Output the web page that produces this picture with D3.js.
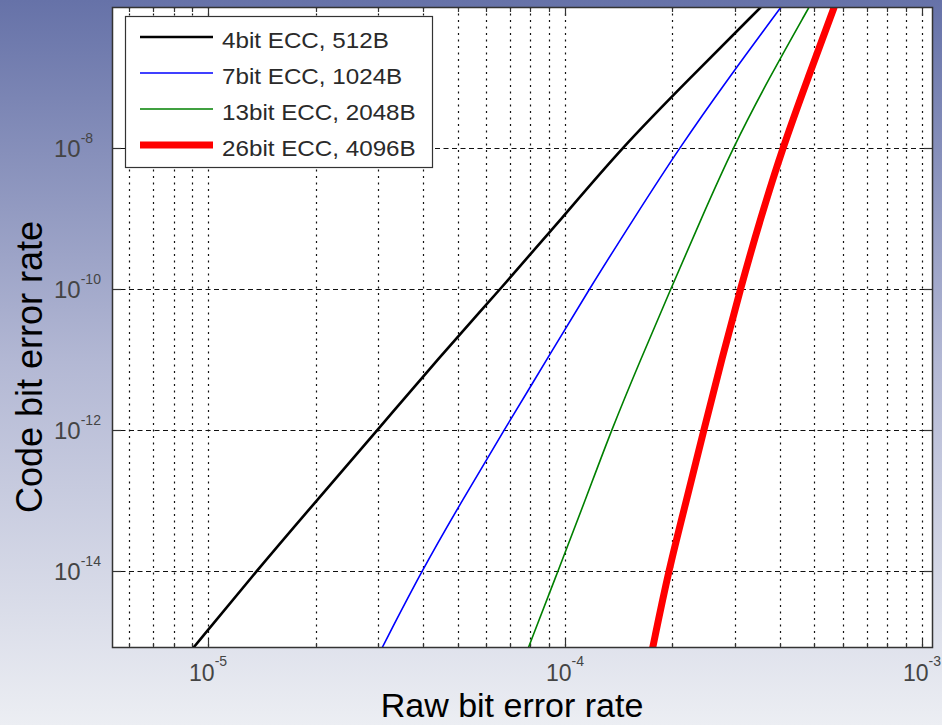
<!DOCTYPE html>
<html>
<head>
<meta charset="utf-8">
<script src="https://cdn.jsdelivr.net/npm/d3@7"></script>
<style>
  html, body { margin: 0; padding: 0; }
  body { width: 942px; height: 725px; overflow: hidden; }
  svg { display: block; font-family: "Liberation Sans", Arial, Helvetica, sans-serif; }
</style>
</head>
<body>
<div id="chart"></div>
<script>
// code bit error rate levels (shared y values for every curve)
const codeBer = [7.94e-16, 1e-14, 1e-13, 1e-12, 1e-11, 1e-10, 1e-9, 1e-8, 1e-7, 1e-6];

// raw bit error rate at each level above
const raw4bit = [9.08e-6, 1.37e-5, 2.02e-5, 2.99e-5, 4.4e-5, 6.6e-5, 9.8e-5, 1.44e-4, 2.25e-4, 3.54e-4];
const raw7bit = [3.07e-5, 3.97e-5, 5.16e-5, 6.76e-5, 8.91e-5, 1.17e-4, 1.56e-4, 2.09e-4, 2.88e-4, 4.03e-4];
const raw13bit = [7.89e-5, 9.57e-5, 1.14e-4, 1.35e-4, 1.63e-4, 1.98e-4, 2.41e-4, 2.95e-4, 3.74e-4, 4.83e-4];
const raw26bit = [1.76e-4, 1.95e-4, 2.19e-4, 2.45e-4, 2.75e-4, 3.1e-4, 3.53e-4, 4.07e-4, 4.8e-4, 5.68e-4];

const seriesNames = ["4bit ECC, 512B", "7bit ECC, 1024B", "13bit ECC, 2048B", "26bit ECC, 4096B"];
const seriesRaw = [raw4bit, raw7bit, raw13bit, raw26bit];
const seriesColors = ["#000000", "#0000ff", "#008000", "#ff0000"];
const seriesWidths = [2.6, 1.6, 1.6, 7];

const xLabelTicks = [1e-5, 1e-4, 1e-3];
const yLabelTicks = [1e-8, 1e-10, 1e-12, 1e-14];

const xDomain = [5.38e-6, 1.074e-3];
const yDomain = [7.94e-16, 1e-6];

const W = 942, H = 725;
const plot = { left: 112, right: 933, top: 7, bottom: 648 };

const svg = d3.select("#chart").append("svg").attr("width", W).attr("height", H);

const defs = svg.append("defs");
const grad = defs.append("linearGradient").attr("id", "bg").attr("x1", 0).attr("y1", 0).attr("x2", 0).attr("y2", 1);
grad.append("stop").attr("offset", "0%").attr("stop-color", "#6672a8");
grad.append("stop").attr("offset", "50%").attr("stop-color", "#b3b8d4");
grad.append("stop").attr("offset", "100%").attr("stop-color", "#eceef3");
defs.append("clipPath").attr("id", "clip").append("rect")
  .attr("x", plot.left).attr("y", plot.top)
  .attr("width", plot.right - plot.left).attr("height", plot.bottom - plot.top);

svg.append("rect").attr("width", W).attr("height", H).attr("fill", "url(#bg)");

const x = d3.scaleLog().domain(xDomain).range([plot.left, plot.right]);
const y = d3.scaleLog().domain(yDomain).range([plot.bottom, plot.top]);

svg.append("rect")
  .attr("x", plot.left).attr("y", plot.top)
  .attr("width", plot.right - plot.left).attr("height", plot.bottom - plot.top)
  .attr("fill", "#fff");

// grid
const xTicks = x.ticks();
const grid = svg.append("g").attr("stroke", "#111").attr("stroke-width", 1.2);
grid.selectAll("line.vx").data(xTicks).join("line")
  .attr("x1", (d) => Math.round(x(d)) + 0.5).attr("x2", (d) => Math.round(x(d)) + 0.5)
  .attr("y1", plot.top).attr("y2", plot.bottom)
  .attr("stroke-dasharray", "2,4.5");
grid.selectAll("line.hy").data(yLabelTicks).join("line")
  .attr("x1", plot.left).attr("x2", plot.right)
  .attr("y1", (d) => Math.round(y(d)) + 0.5).attr("y2", (d) => Math.round(y(d)) + 0.5)
  .attr("stroke-dasharray", "5,3.5");

// tick marks
const isMajor = (d) => Math.abs(Math.log10(d) - Math.round(Math.log10(d))) < 1e-6;
const ticks = svg.append("g").attr("stroke", "#333").attr("stroke-width", 1.2);
xTicks.forEach((d) => {
  const px = Math.round(x(d)) + 0.5;
  const len = isMajor(d) ? 9 : 5;
  ticks.append("line").attr("x1", px).attr("x2", px).attr("y1", plot.bottom).attr("y2", plot.bottom - len);
  ticks.append("line").attr("x1", px).attr("x2", px).attr("y1", plot.top).attr("y2", plot.top + len);
});
yLabelTicks.forEach((d) => {
  const py = Math.round(y(d)) + 0.5;
  ticks.append("line").attr("x1", plot.left).attr("x2", plot.left + 9).attr("y1", py).attr("y2", py);
  ticks.append("line").attr("x1", plot.right).attr("x2", plot.right - 9).attr("y1", py).attr("y2", py);
});

// curves
const line = d3.line()
  .x((d) => x(d[0]))
  .y((d) => y(d[1]))
  .curve(d3.curveBasis);

const curves = svg.append("g").attr("clip-path", "url(#clip)");
seriesRaw.forEach((raw, i) => {
  const pts = raw.map((v, j) => [v, codeBer[j]]);
  curves.append("path")
    .attr("d", line(pts))
    .attr("fill", "none")
    .attr("stroke", seriesColors[i])
    .attr("stroke-width", seriesWidths[i])
    .attr("stroke-linejoin", "round");
});

// frame
svg.append("rect")
  .attr("x", plot.left + 0.5).attr("y", plot.top + 0.5)
  .attr("width", plot.right - plot.left - 1).attr("height", plot.bottom - plot.top - 1)
  .attr("fill", "none").attr("stroke", "#333").attr("stroke-width", 1.5);

// tick labels
const expOf = (d) => Math.round(Math.log10(d));
xLabelTicks.forEach((d) => {
  const t = svg.append("text")
    .attr("x", x(d)).attr("y", 681)
    .attr("text-anchor", "middle")
    .attr("fill", "#444")
    .style("font-size", "23px");
  t.append("tspan").text("10");
  t.append("tspan").attr("dy", -15).style("font-size", "14px").text(expOf(d));
});
yLabelTicks.forEach((d) => {
  const t = svg.append("text")
    .attr("x", 54).attr("y", y(d) + 9)
    .attr("fill", "#444")
    .style("font-size", "24px");
  t.append("tspan").text("10");
  t.append("tspan").attr("dy", -14).style("font-size", "14px").text(expOf(d));
});

// axis titles
svg.append("text")
  .attr("x", 512).attr("y", 717)
  .attr("text-anchor", "middle")
  .style("font-size", "34px")
  .attr("fill", "#000")
  .text("Raw bit error rate");
svg.append("text")
  .attr("transform", "translate(42,367) rotate(-90)")
  .attr("text-anchor", "middle")
  .style("font-size", "36px")
  .attr("fill", "#000")
  .text("Code bit error rate");

// legend
const legend = svg.append("g");
legend.append("rect")
  .attr("x", 125.5).attr("y", 16.5).attr("width", 307).attr("height", 151)
  .attr("fill", "#fff").attr("stroke", "#333").attr("stroke-width", 1.2);
seriesNames.forEach((name, i) => {
  const cy = 37 + i * 36;
  legend.append("line")
    .attr("x1", 140).attr("x2", 213).attr("y1", cy).attr("y2", cy)
    .attr("stroke", seriesColors[i]).attr("stroke-width", seriesWidths[i]);
  const t = legend.append("text")
    .attr("x", 222).attr("y", cy + 11)
    .attr("fill", "#2a2a2a")
    .style("font-size", "22px")
    .text(name);
  const w = t.node().getComputedTextLength();
  t.attr("textLength", w * 1.1).attr("lengthAdjust", "spacingAndGlyphs");
});
</script>
</body>
</html>
